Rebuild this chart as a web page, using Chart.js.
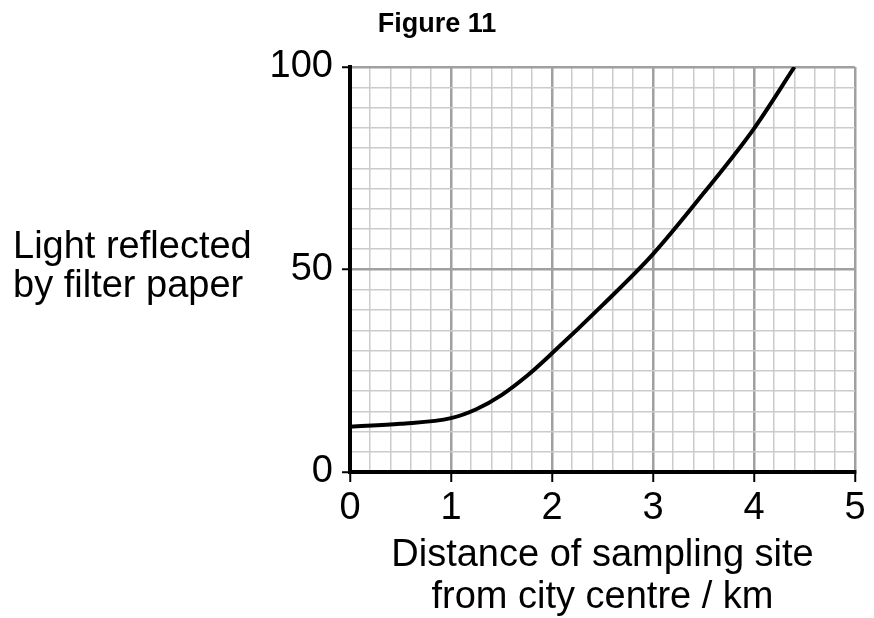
<!DOCTYPE html>
<html>
<head>
<meta charset="utf-8">
<script src="https://cdn.jsdelivr.net/npm/chart.js@4.4.1/dist/chart.umd.min.js"></script>
<style>
  html, body { margin: 0; padding: 0; background: #fff; }
  #wrap { width: 874px; height: 618px; }
</style>
</head>
<body>
<div id="wrap"><canvas id="graph" width="874" height="618"></canvas></div>
<script>
// Data
const distanceKm = [0, 0.5, 1, 1.25, 1.5, 1.75, 2, 2.5, 3, 3.5, 4, 4.4];
const lightReflected = [11.2, 11.9, 13.3, 15.5, 19.0, 23.7, 29.3, 41.2, 53.8, 68.8, 84.8, 100];
const xTickLabels = ["0", "1", "2", "3", "4", "5"];
const yTickLabels = ["0", "50", "100"];
const figureTitle = "Figure 11";
const xTitleLines = ["Distance of sampling site", "from city centre / km"];
const yTitleLines = ["Light reflected", "by filter paper"];

const FONT = '"Liberation Sans", Arial, sans-serif';

function tidy(v) {
  return String(Math.round(v * 1000) / 1000);
}

// figure title and horizontal y axis title
const textPlugin = {
  id: "extraText",
  afterDraw(chart) {
    const c = chart.ctx;
    c.save();
    c.fillStyle = "#000";
    c.textBaseline = "alphabetic";
    c.font = "bold 27px " + FONT;
    c.textAlign = "center";
    c.fillText(figureTitle, 437, 32);
    c.font = "38px " + FONT;
    c.textAlign = "left";
    yTitleLines.forEach((t, i) => c.fillText(t, 13, 258 + i * 39));
    c.restore();
  }
};

const points = distanceKm.map((x, i) => ({ x: x, y: lightReflected[i] }));

new Chart(document.getElementById("graph").getContext("2d"), {
  type: "scatter",
  data: {
    datasets: [{
      data: points,
      showLine: true,
      borderColor: "#000",
      borderWidth: 4,
      pointRadius: 0,
      cubicInterpolationMode: "monotone"
    }]
  },
  options: {
    responsive: false,
    animation: false,
    events: [],
    layout: { padding: { left: 0, right: 19, top: 67, bottom: 0 } },
    plugins: {
      legend: { display: false },
      tooltip: { enabled: false },
      title: { display: false }
    },
    scales: {
      x: {
        type: "linear",
        min: 0,
        max: 5,
        afterFit: s => { s.height = 146; },
        ticks: {
          stepSize: 0.2,
          autoSkip: false,
          maxRotation: 0,
          padding: 4,
          color: "#000",
          font: { family: FONT, size: 38 },
          callback: v => xTickLabels.includes(tidy(v)) ? tidy(v) : ""
        },
        grid: {
          color: ctx => {
            const v = ctx.tick.value;
            if (Math.abs(v) < 1e-6) return "rgba(0,0,0,0)";
            return xTickLabels.includes(tidy(v)) ? "#a0a0a0" : "#cbcbcb";
          },
          lineWidth: ctx => xTickLabels.includes(tidy(ctx.tick.value)) ? 2.5 : 1.5,
          tickLength: 10,
          tickWidth: 2,
          tickColor: ctx => xTickLabels.includes(tidy(ctx.tick.value)) ? "#000" : "rgba(0,0,0,0)"
        },
        border: { color: "#000", width: 4 },
        title: {
          display: true,
          text: xTitleLines,
          color: "#000",
          font: { family: FONT, size: 38, lineHeight: 1.1 },
          padding: { top: 0, bottom: 0 }
        }
      },
      y: {
        type: "linear",
        min: 0,
        max: 100,
        afterFit: s => { s.width = 350; },
        ticks: {
          stepSize: 5,
          autoSkip: false,
          padding: 9,
          color: "#000",
          font: { family: FONT, size: 38 },
          callback: v => yTickLabels.includes(tidy(v)) ? tidy(v) : ""
        },
        grid: {
          color: ctx => {
            const v = ctx.tick.value;
            if (Math.abs(v) < 1e-6) return "rgba(0,0,0,0)";
            return yTickLabels.includes(tidy(v)) ? "#a0a0a0" : "#cbcbcb";
          },
          lineWidth: ctx => yTickLabels.includes(tidy(ctx.tick.value)) ? 2.5 : 1.5,
          tickLength: 8,
          tickWidth: 2,
          tickColor: ctx => yTickLabels.includes(tidy(ctx.tick.value)) ? "#000" : "rgba(0,0,0,0)"
        },
        border: { color: "#000", width: 4 }
      }
    }
  },
  plugins: [textPlugin]
});
</script>
</body>
</html>
